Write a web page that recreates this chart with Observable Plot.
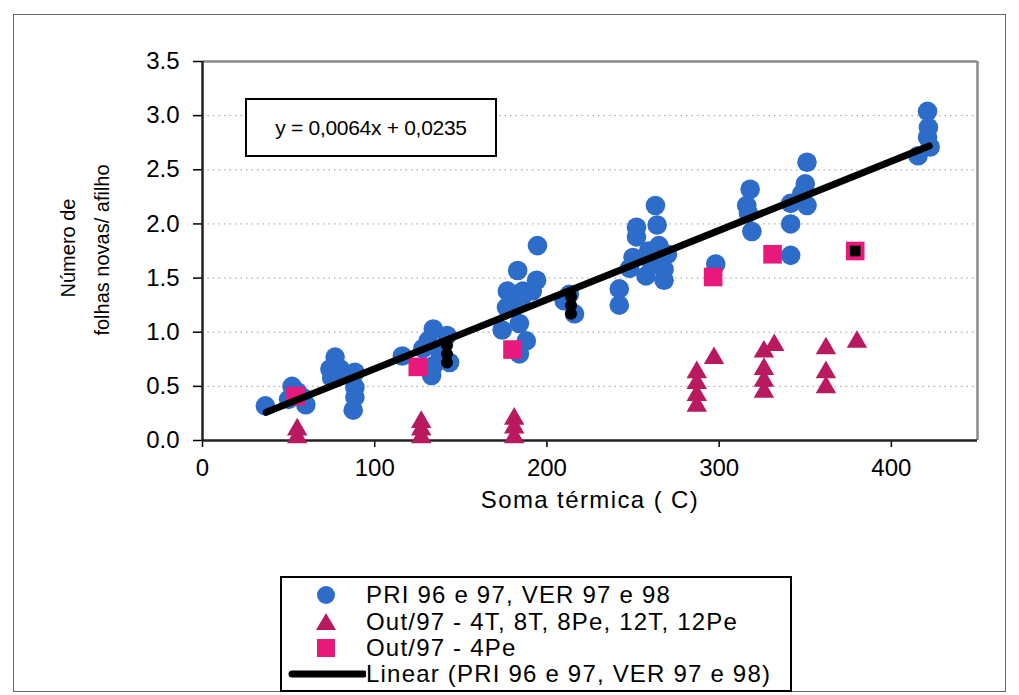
<!DOCTYPE html>
<html><head><meta charset="utf-8">
<script src="https://cdn.jsdelivr.net/npm/d3@7"></script>
<script src="https://cdn.jsdelivr.net/npm/@observablehq/plot@0.6"></script>
<style>
body{margin:0;background:#fff;font-family:"Liberation Sans",Arial,sans-serif;color:#000;}
#wrap{position:relative;width:1019px;height:695px;overflow:hidden;background:#fff;}
#frame{position:absolute;left:13px;top:14px;width:993px;height:678px;border:1.5px solid #666;box-sizing:border-box;}
#chart{position:absolute;left:0;top:0;}
.abs{position:absolute;white-space:nowrap;}
#eq{left:245px;top:98px;width:252px;height:59px;border:2px solid #000;box-sizing:border-box;font-size:21px;display:flex;align-items:center;justify-content:center;letter-spacing:-0.3px;background:#fff;}
.ytitle{font-size:20px;transform:translate(-50%,-50%) rotate(-90deg);}
#xtitle{font-size:24px;letter-spacing:1.4px;transform:translate(-50%,-50%);}
#legend{left:280px;top:576px;width:512px;height:116px;border:2px solid #000;box-sizing:border-box;background:#fff;}
.row{position:absolute;left:0;height:28px;font-size:24px;letter-spacing:1.2px;line-height:28px;}
.row svg{position:absolute;top:0;}
.row span{position:absolute;left:84px;}
</style></head>
<body>
<div id="wrap">
  <div id="frame"></div>
  <div id="chart"></div>
  <div id="eq" class="abs"></div>
  <div class="abs ytitle" id="yt1" style="left:68px;top:248px;"></div>
  <div class="abs ytitle" id="yt2" style="left:102px;top:250px;"></div>
  <div class="abs" id="xtitle" style="left:590px;top:500px;"></div>
  <div class="abs" id="legend"></div>
</div>
<script>
// ---- data ----
const xTicks = [0, 100, 200, 300, 400];
const yTicks = [0, 0.5, 1.0, 1.5, 2.0, 2.5, 3.0, 3.5];
const yGrid = [0.5, 1.0, 1.5, 2.0, 2.5, 3.0];

const blueX = [36.5,50,52,55,58,60,77,74,75,80,88.5,88.5,88.5,87.5,116,134,131,142,133,134,143.5,128,138,
  194.5,183,194,177,186,191.5,176.5,185,174,184,188,184,210,216,213,242,242,
  263,252,264,252,265,250,259,270,248,257.5,268,261,268,
  298,318,316,317,319,341.5,341.5,341.5,351,350,351,348,421,421.5,421,422.5,415.5];
const blueY = [0.32,0.38,0.50,0.45,0.40,0.33,0.77,0.66,0.58,0.66,0.63,0.49,0.40,0.28,0.78,1.03,0.92,0.97,0.60,0.69,0.72,0.85,0.80,
  1.80,1.57,1.48,1.38,1.38,1.38,1.23,1.30,1.02,1.08,0.92,0.80,1.29,1.17,1.35,1.40,1.25,
  2.17,1.97,1.99,1.88,1.80,1.69,1.75,1.72,1.59,1.52,1.48,1.62,1.58,
  1.63,2.32,2.17,2.10,1.93,2.19,2.00,1.71,2.57,2.37,2.17,2.28,3.04,2.89,2.80,2.71,2.63];

const triX = [55,55,127,127,127,181,181,181,287,287,287,287,297,326,326,326,326,332,362,362,362,380];
const triY = [0.10,0.03,0.17,0.10,0.03,0.20,0.12,0.03,0.63,0.53,0.42,0.32,0.76,0.82,0.66,0.55,0.45,0.88,0.85,0.63,0.49,0.91];

const sqX = [54,125,180,296.5,331,379];
const sqY = [0.41,0.68,0.84,1.51,1.72,1.75];
const innerX = [379];
const innerY = [1.75];

const darkX = [142,142,142,214,214,214];
const darkY = [0.72,0.80,0.88,1.17,1.25,1.33];

const trendX = [37, 422];
const trendY = [0.26, 2.72];

const equation = "y = 0,0064x + 0,0235";
const xLabel = "Soma térmica ( C)";
const yLabel1 = "Número de";
const yLabel2 = "folhas novas/ afilho";
const seriesNames = ["PRI 96 e 97, VER 97 e 98", "Out/97 - 4T, 8T, 8Pe, 12T, 12Pe", "Out/97 - 4Pe", "Linear (PRI 96 e 97, VER 97 e 98)"];

const BLUE = "#2d6cc8", TRI = "#b8195f", SQ = "#e8197a";

const blue = blueX.map((x,i)=>({x, y: blueY[i]}));
const tri = triX.map((x,i)=>({x, y: triY[i]}));
const sq = sqX.map((x,i)=>({x, y: sqY[i]}));
const inner = innerX.map((x,i)=>({x, y: innerY[i]}));
const dark = darkX.map((x,i)=>({x, y: darkY[i]}));
const trend = trendX.map((x,i)=>({x, y: trendY[i]}));

const chart = Plot.plot({
  width: 1019, height: 520,
  marginLeft: 202, marginRight: 42, marginTop: 61, marginBottom: 80,
  x: {domain: [0, 450], axis: null},
  y: {domain: [0, 3.5], axis: null},
  style: {fontFamily: '"Liberation Sans", Arial, sans-serif', fontSize: "24px", color: "#000", background: "transparent", overflow: "visible"},
  marks: [
    Plot.ruleY(yGrid, {stroke: "#9a9a9a", strokeWidth: 1, strokeDasharray: "1.5,4"}),
    Plot.ruleY([3.5], {stroke: "#8a8a8a", strokeWidth: 2.5}),
    Plot.ruleX([450], {stroke: "#8a8a8a", strokeWidth: 2.5}),
    Plot.axisY({ticks: yTicks, tickFormat: d => d.toFixed(1), tickSize: 9, tickPadding: 14, fontSize: 24, label: null, strokeWidth: 1.5}),
    Plot.axisX({ticks: xTicks, tickSize: 7, tickPadding: 11, fontSize: 24, label: null, strokeWidth: 1.5}),
    Plot.ruleY([0], {stroke: "#222", strokeWidth: 2.5}),
    Plot.ruleX([0], {stroke: "#222", strokeWidth: 2.5}),
    Plot.dot(blue, {x: "x", y: "y", r: 9.8, fill: BLUE, stroke: "none"}),
    Plot.dot(tri, {x: "x", y: "y", symbol: "triangle", r: 7.6, fill: TRI, stroke: "none"}),
    Plot.dot(sq, {x: "x", y: "y", symbol: "square", r: 10.5, fill: SQ, stroke: "none"}),
    Plot.dot(inner, {x: "x", y: "y", symbol: "square", r: 6, fill: "#000", stroke: "none"}),
    Plot.line(trend, {x: "x", y: "y", stroke: "#000", strokeWidth: 7, strokeLinecap: "round"}),
    Plot.dot(dark, {x: "x", y: "y", r: 6, fill: "#000", stroke: "none"})
  ]
});
document.getElementById("chart").appendChild(chart);

document.getElementById("eq").textContent = equation;
document.getElementById("xtitle").textContent = xLabel;
document.getElementById("yt1").textContent = yLabel1;
document.getElementById("yt2").textContent = yLabel2;

const legendSymbols = [
  `<svg width="80" height="28" style="left:0"><circle cx="44" cy="14" r="9" fill="${BLUE}"/></svg>`,
  `<svg width="80" height="28" style="left:0"><path d="M44,5 L54,22 L34,22 Z" fill="${TRI}"/></svg>`,
  `<svg width="80" height="28" style="left:0"><rect x="35" y="5" width="18" height="18" fill="${SQ}"/></svg>`,
  `<svg width="84" height="28" style="left:0"><line x1="10" y1="14" x2="82" y2="14" stroke="#000" stroke-width="7" stroke-linecap="round"/></svg>`
];
const legend = document.getElementById("legend");
const rowTops = [3, 30, 56, 82];
seriesNames.forEach((name, i) => {
  const row = document.createElement("div");
  row.className = "row";
  row.style.top = rowTops[i] + "px";
  row.style.width = "500px";
  row.innerHTML = legendSymbols[i] + `<span>${name}</span>`;
  legend.appendChild(row);
});
</script>
</body></html>
